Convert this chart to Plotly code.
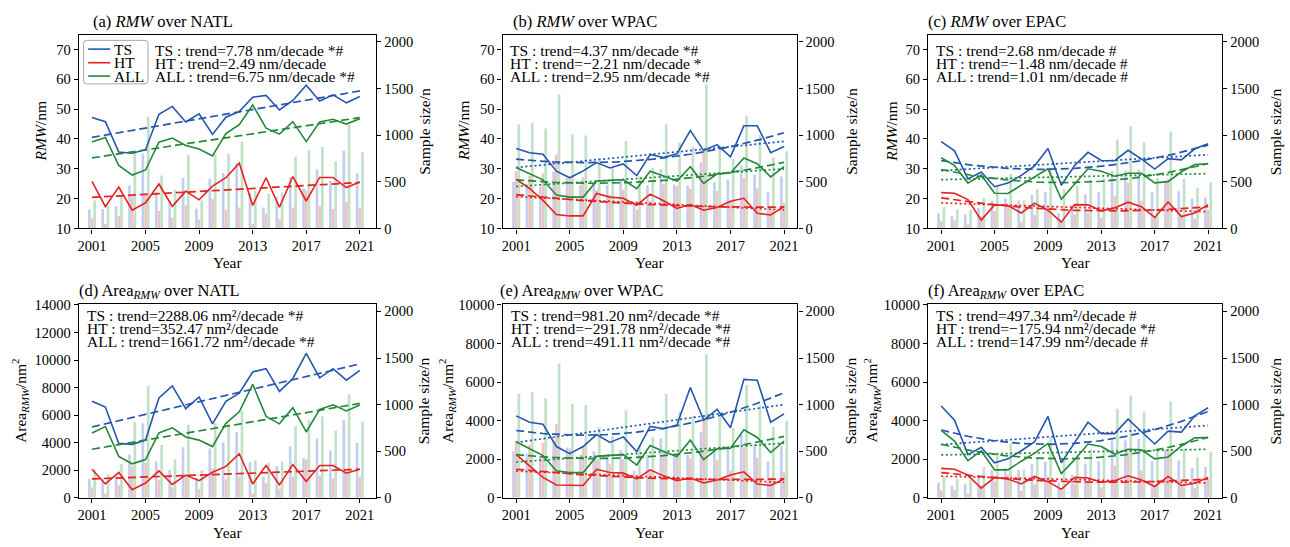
import numpy as np
import plotly.graph_objects as go

# ---------------------------------------------------------------- data
years = list(range(2001, 2022))
tick_years = [2001, 2005, 2009, 2013, 2017, 2021]

# yearly sample sizes (same for RMW and Area panels of a basin)
n_natl_ts = [205, 209, 238, 462, 801, 390, 300, 542, 215, 530, 595, 706, 383, 226, 341, 550, 428, 636, 508, 835, 591]
n_natl_ht = [110, 48, 135, 345, 380, 188, 115, 245, 95, 318, 200, 226, 50, 157, 98, 226, 410, 237, 209, 286, 226]
n_natl_all = [299, 250, 360, 817, 1200, 567, 415, 785, 300, 800, 800, 932, 404, 376, 386, 769, 838, 873, 720, 1110, 818]

n_wpac_ts = [497, 475, 445, 610, 540, 463, 500, 470, 510, 289, 463, 637, 472, 460, 710, 495, 525, 678, 577, 393, 557]
n_wpac_ht = [615, 567, 591, 793, 530, 550, 411, 360, 414, 202, 296, 480, 454, 425, 835, 402, 290, 542, 428, 219, 276]
n_wpac_all = [1115, 1134, 1071, 1440, 1010, 996, 758, 661, 939, 560, 650, 1115, 925, 880, 1541, 870, 750, 1210, 1000, 760, 828]

n_epac_ts = [162, 132, 152, 219, 299, 320, 300, 360, 388, 163, 247, 368, 392, 615, 615, 630, 392, 515, 400, 320, 332]
n_epac_ht = [80, 85, 45, 135, 184, 250, 73, 143, 230, 80, 150, 167, 115, 345, 490, 296, 120, 530, 140, 105, 200]
n_epac_all = [230, 205, 198, 327, 470, 584, 303, 420, 650, 420, 455, 520, 540, 955, 1099, 925, 540, 1037, 530, 436, 497]

# annual mean RMW (nm)
rmw_natl_ts = [47.2, 45.8, 35.6, 35.2, 36.4, 48.3, 50.9, 45.7, 48.4, 41.5, 47.3, 49.2, 54.0, 54.6, 49.7, 52.9, 58.0, 52.7, 54.8, 52.1, 54.2]
rmw_natl_ht = [25.8, 17.3, 23.9, 16.1, 18.6, 24.9, 17.4, 22.5, 19.6, 24.2, 27.0, 31.9, 17.7, 27.0, 17.1, 27.4, 19.2, 27.1, 27.1, 23.7, 25.6]
rmw_natl_all = [39.0, 40.5, 31.1, 27.9, 29.6, 38.9, 40.3, 37.8, 36.6, 34.3, 41.8, 44.8, 51.4, 43.6, 41.6, 45.8, 39.1, 45.7, 46.6, 45.0, 46.8]

rmw_wpac_ts = [36.8, 35.4, 34.9, 29.2, 27.0, 29.3, 32.1, 30.3, 31.6, 27.7, 34.8, 33.8, 35.0, 42.8, 36.1, 38.1, 34.0, 44.4, 44.4, 35.4, 37.5]
rmw_wpac_ht = [26.5, 23.4, 19.4, 14.7, 14.2, 14.2, 21.7, 20.5, 20.1, 17.8, 21.5, 19.3, 16.7, 18.0, 16.1, 17.0, 19.1, 20.1, 15.1, 14.5, 17.3]
rmw_wpac_all = [30.4, 28.4, 26.3, 21.2, 20.5, 20.5, 25.9, 26.1, 26.3, 23.3, 29.2, 27.6, 25.9, 30.7, 25.1, 28.3, 28.6, 33.6, 31.7, 27.3, 30.7]

rmw_epac_ts = [39.1, 36.0, 26.6, 28.9, 24.0, 25.2, 27.8, 31.0, 36.8, 24.5, 31.1, 35.5, 32.8, 32.7, 36.2, 33.3, 29.9, 33.4, 33.0, 36.7, 38.4]
rmw_epac_ht = [22.0, 21.8, 19.7, 12.8, 17.9, 17.7, 15.2, 18.5, 16.1, 12.1, 18.0, 17.9, 15.9, 16.9, 18.8, 17.3, 13.7, 18.9, 14.0, 15.2, 18.0]
rmw_epac_all = [33.7, 31.1, 25.2, 27.9, 21.8, 21.7, 24.5, 27.2, 30.0, 19.8, 25.0, 30.0, 29.2, 27.5, 28.5, 28.5, 25.3, 25.7, 29.0, 31.4, 31.7]

# annual mean area enclosed by the RMW (nm^2)
area_natl_ts = [7010, 6590, 3950, 3880, 4190, 7250, 8120, 6470, 7320, 5370, 7010, 7600, 9130, 9370, 7720, 8660, 10490, 8710, 9370, 8540, 9250]
area_natl_ht = [2070, 1010, 1840, 590, 1080, 1950, 970, 1650, 1250, 1860, 2280, 3200, 1010, 2350, 940, 2420, 1180, 2350, 2350, 1790, 2070]
area_natl_all = [4710, 5180, 3010, 2470, 2780, 4710, 5080, 4420, 4190, 3720, 5410, 6240, 8240, 5910, 5370, 6540, 4780, 6420, 6750, 6310, 6730]

area_wpac_ts = [4250, 3920, 3820, 2660, 2290, 2660, 3280, 2870, 3160, 2400, 3700, 3580, 3780, 5720, 4030, 4590, 3630, 6140, 6100, 3920, 4350]
area_wpac_ht = [2240, 1650, 1060, 670, 640, 640, 1480, 1310, 1280, 980, 1450, 1140, 890, 1030, 770, 930, 1180, 1350, 720, 640, 980]
area_wpac_all = [2910, 2570, 2190, 1400, 1310, 1310, 2150, 2200, 2240, 1700, 2710, 2400, 2140, 2990, 1980, 2540, 2570, 3530, 3130, 2350, 2940]

area_epac_ts = [4760, 4030, 2240, 2620, 1820, 2020, 2440, 2910, 4220, 1820, 2860, 3920, 3330, 3330, 4080, 3410, 2790, 3460, 3410, 4250, 4670]
area_epac_ht = [1530, 1480, 1180, 500, 1060, 980, 720, 1110, 840, 440, 1060, 1030, 810, 890, 1140, 930, 590, 1110, 640, 760, 1060]
area_epac_all = [3500, 2940, 1930, 2440, 1450, 1450, 1900, 2320, 2820, 1260, 1980, 2790, 2660, 2270, 2520, 2490, 2020, 2120, 2690, 3110, 3130]

# linear trends per decade (TS, HT, ALL) and significance marks
trend_rmw_natl = [7.78, 2.49, 6.75]
trend_rmw_wpac = [4.37, -2.21, 2.95]
trend_rmw_epac = [2.68, -1.48, 1.01]
trend_area_natl = [2288.06, 352.47, 1661.72]
trend_area_wpac = [981.20, -291.78, 491.11]
trend_area_epac = [497.34, -175.94, 147.99]

marks_rmw_natl = ["*#", "", "*#"]
marks_rmw_wpac = ["*#", "*", "*#"]
marks_rmw_epac = ["#", "#", "#"]
marks_area_natl = ["*#", "", "*#"]
marks_area_wpac = ["*#", "*#", "*#"]
marks_area_epac = ["#", "*#", "#"]

group_names = ["TS", "HT", "ALL"]

# ---------------------------------------------------------------- style
W, H = 1290, 547
FONT = "Liberation Serif"
line_colors = ["#2456b0", "#e8201f", "#22883a"]
bar_colors = ["#c3cfee", "#f6c1c2", "#c1e1c8"]
bar_offsets = [-0.3, -0.1, 0.1]


def px(x):
    return x / W


def py(y):
    return 1 - y / H


panels = [
    dict(tag="(a)", kind="rmw", basin="NATL", vals=[rmw_natl_ts, rmw_natl_ht, rmw_natl_all],
         n=[n_natl_ts, n_natl_ht, n_natl_all], trend=trend_rmw_natl, marks=marks_rmw_natl, quad=False),
    dict(tag="(b)", kind="rmw", basin="WPAC", vals=[rmw_wpac_ts, rmw_wpac_ht, rmw_wpac_all],
         n=[n_wpac_ts, n_wpac_ht, n_wpac_all], trend=trend_rmw_wpac, marks=marks_rmw_wpac, quad=True),
    dict(tag="(c)", kind="rmw", basin="EPAC", vals=[rmw_epac_ts, rmw_epac_ht, rmw_epac_all],
         n=[n_epac_ts, n_epac_ht, n_epac_all], trend=trend_rmw_epac, marks=marks_rmw_epac, quad=True),
    dict(tag="(d)", kind="area", basin="NATL", vals=[area_natl_ts, area_natl_ht, area_natl_all],
         n=[n_natl_ts, n_natl_ht, n_natl_all], trend=trend_area_natl, marks=marks_area_natl, quad=False),
    dict(tag="(e)", kind="area", basin="WPAC", vals=[area_wpac_ts, area_wpac_ht, area_wpac_all],
         n=[n_wpac_ts, n_wpac_ht, n_wpac_all], trend=trend_area_wpac, marks=marks_area_wpac, quad=True),
    dict(tag="(f)", kind="area", basin="EPAC", vals=[area_epac_ts, area_epac_ht, area_epac_all],
         n=[n_epac_ts, n_epac_ht, n_epac_all], trend=trend_area_epac, marks=marks_area_epac, quad=True),
]

# frame of each subplot in pixels: left, right, top, bottom
col_lr = [(77.7, 376.0), (502.3, 797.7), (928.3, 1223.3)]
row_tb = [(28.3, 227.7), (305.3, 504.7)]
col_xrange = [(2000.0, 2022.24), (1999.98, 2022.0), (2000.0, 2022.07)]
title_x = [90.0, 510.7, 926.3, 76.3, 497.3, 926.0]
text_x = [152.0, 508.0, 934.7, 84.0, 509.0, 934.7]
text_dy = [(16.0, 30.0, 43.4), (11.7, 25.3, 38.7)]
ylabel_left_x = [40.0, 463.3, 891.7, 19.0, 446.7, 872.0]
ylabel_right_x = [424.0, 851.7, 1276.7]

fig = go.Figure()
layout = dict(
    width=W, height=H, margin=dict(l=0, r=0, t=0, b=0),
    paper_bgcolor="white", plot_bgcolor="white", showlegend=False,
    barmode="overlay", font=dict(family=FONT, size=14, color="black"),
)
annotations = []
shapes = []

axis_common = dict(
    showgrid=False, zeroline=False, showline=True, linecolor="black", linewidth=1.1,
    ticks="outside", ticklen=4, tickwidth=1.1, tickcolor="black", tickformat="d",
    tickfont=dict(family=FONT, size=14.5, color="black"),
)

yrs = np.array(years, dtype=float)

for i, p in enumerate(panels):
    r, c = divmod(i, 3)
    left, right = col_lr[c]
    top, bottom = row_tb[r]
    xname = "x" if i == 0 else f"x{i + 1}"
    xkey = "xaxis" if i == 0 else f"xaxis{i + 1}"
    yb = 2 * i + 1
    yl = 2 * i + 2
    ybname = "y" if yb == 1 else f"y{yb}"
    ylname = f"y{yl}"
    ybkey = "yaxis" if yb == 1 else f"yaxis{yb}"
    ylkey = f"yaxis{yl}"

    # sample-size bars (right axis)
    for k in range(3):
        fig.add_trace(go.Bar(
            x=years, y=p["n"][k], width=0.2, offset=bar_offsets[k],
            marker=dict(color=bar_colors[k], line=dict(width=0)),
            xaxis=xname, yaxis=ybname, hoverinfo="skip",
        ))

    # annual means and trend curves (left axis)
    for k in range(3):
        v = np.array(p["vals"][k], dtype=float)
        fig.add_trace(go.Scatter(
            x=years, y=v, mode="lines", line=dict(color=line_colors[k], width=1.6),
            xaxis=xname, yaxis=ylname,
        ))
        slope = p["trend"][k] / 10.0
        xl = np.array([2001.0, 2021.0])
        yl_fit = v.mean() + slope * (xl - yrs.mean())
        if p["quad"]:
            fig.add_trace(go.Scatter(
                x=xl, y=yl_fit, mode="lines",
                line=dict(color=line_colors[k], width=1.7, dash="2px,2.6px"),
                xaxis=xname, yaxis=ylname,
            ))
            coef = np.polyfit(yrs - 2011, v, 2)
            xq = np.linspace(2001, 2021, 81)
            fig.add_trace(go.Scatter(
                x=xq, y=np.polyval(coef, xq - 2011), mode="lines",
                line=dict(color=line_colors[k], width=1.7, dash="8px,4px"),
                xaxis=xname, yaxis=ylname,
            ))
        else:
            fig.add_trace(go.Scatter(
                x=xl, y=yl_fit, mode="lines",
                line=dict(color=line_colors[k], width=1.7, dash="8px,4px"),
                xaxis=xname, yaxis=ylname,
            ))

    if p["kind"] == "rmw":
        lrange, ltick = [10, 75], [10, 20, 30, 40, 50, 60, 70]
        unit = "nm"
        ytitle = "<i>RMW</i>/nm"
        ttl = f"{p['tag']} <i>RMW</i> over {p['basin']}"
    else:
        top_val = 14070 if p["basin"] == "NATL" else 10050
        step = 2000
        lrange = [0, top_val]
        ltick = list(range(0, int(top_val) + 1, step))
        unit = "nm²"
        ytitle = "Area<sub><i>RMW</i></sub>/nm<sup>2</sup>"
        ttl = f"{p['tag']} Area<sub><i>RMW</i></sub> over {p['basin']}"

    layout[xkey] = dict(
        axis_common, domain=[px(left), px(right)], range=list(col_xrange[c]),
        tickvals=tick_years, anchor=ybname, mirror=True,
    )
    layout[ybkey] = dict(
        axis_common, domain=[py(bottom), py(top)], range=[0, 2080],
        tickvals=[0, 500, 1000, 1500, 2000], side="right", anchor=xname,
    )
    layout[ylkey] = dict(
        axis_common, range=lrange, tickvals=ltick, side="left",
        anchor=xname, overlaying=ybname,
    )

    # panel title
    annotations.append(dict(
        text=ttl, x=px(title_x[i]), y=py(top - 13.5), xref="paper", yref="paper",
        xanchor="left", yanchor="middle", showarrow=False,
        font=dict(family=FONT, size=16.5, color="black"),
    ))
    # trend statements
    for k in range(3):
        val = f"{p['trend'][k]:.2f}".replace("-", "\u2212")
        mk = p["marks"][k]
        txt = f"{group_names[k]} : trend={val} {unit}/decade" + (f" {mk}" if mk else "")
        annotations.append(dict(
            text=txt, x=px(text_x[i]), y=py(top + text_dy[r][k]), xref="paper", yref="paper",
            xanchor="left", yanchor="middle", showarrow=False,
            font=dict(family=FONT, size=15.5, color="black"),
        ))
    # axis titles
    mid_y = (top + bottom) / 2
    annotations.append(dict(
        text=ytitle, x=px(ylabel_left_x[i]), y=py(mid_y), xref="paper", yref="paper",
        xanchor="center", yanchor="middle", textangle=-90, showarrow=False,
        font=dict(family=FONT, size=15.5, color="black"),
    ))
    annotations.append(dict(
        text="Sample size/n", x=px(ylabel_right_x[c]), y=py(mid_y), xref="paper", yref="paper",
        xanchor="center", yanchor="middle", textangle=-90, showarrow=False,
        font=dict(family=FONT, size=15.5, color="black"),
    ))
    annotations.append(dict(
        text="Year", x=px((left + right) / 2), y=py(bottom + 35.5), xref="paper", yref="paper",
        xanchor="center", yanchor="middle", showarrow=False,
        font=dict(family=FONT, size=15.5, color="black"),
    ))

# legend box in panel (a)
lx0, lx1, ly0, ly1, rad = 82.7, 147.3, 34.3, 79.0, 3.0
path = (
    f"M {px(lx0 + rad)},{py(ly0)} L {px(lx1 - rad)},{py(ly0)} "
    f"Q {px(lx1)},{py(ly0)} {px(lx1)},{py(ly0 + rad)} L {px(lx1)},{py(ly1 - rad)} "
    f"Q {px(lx1)},{py(ly1)} {px(lx1 - rad)},{py(ly1)} L {px(lx0 + rad)},{py(ly1)} "
    f"Q {px(lx0)},{py(ly1)} {px(lx0)},{py(ly1 - rad)} L {px(lx0)},{py(ly0 + rad)} "
    f"Q {px(lx0)},{py(ly0)} {px(lx0 + rad)},{py(ly0)} Z"
)
shapes.append(dict(type="path", path=path, xref="paper", yref="paper",
                   fillcolor="rgba(255,255,255,0.85)", line=dict(color="#a9a9a9", width=1)))
for k, yrow in enumerate([43.3, 57.3, 71.0]):
    shapes.append(dict(type="line", xref="paper", yref="paper",
                       x0=px(87.3), x1=px(109.3), y0=py(yrow), y1=py(yrow),
                       line=dict(color=line_colors[k], width=1.6)))
    annotations.append(dict(
        text=group_names[k], x=px(110.7), y=py(yrow), xref="paper", yref="paper",
        xanchor="left", yanchor="middle", showarrow=False,
        font=dict(family=FONT, size=15.5, color="black"),
    ))

layout["annotations"] = annotations
layout["shapes"] = shapes
fig.update_layout(**layout)
fig.write_html("out.html")
